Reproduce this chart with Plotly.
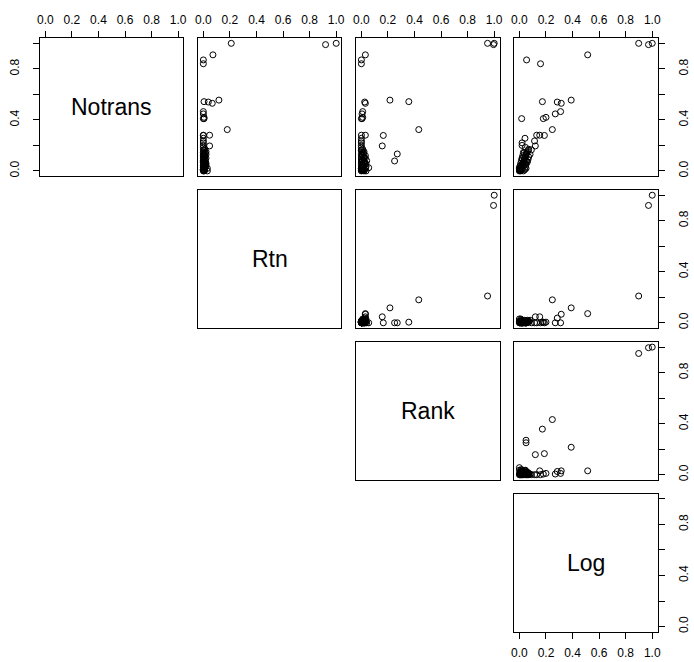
import plotly.graph_objects as go

# Variable names shown on the diagonal
names = ["Notrans", "Rtn", "Rank", "Log"]

# Each variable rescaled to [0, 1]; one entry per observation
notrans = [1.00, 0.99, 1.00, 0.91, 0.87, 0.84, 0.555, 0.543, 0.54, 0.53,
           0.41, 0.41, 0.42, 0.447, 0.465, 0.324, 0.278, 0.28, 0.28, 0.256,
           0.235, 0.22, 0.20, 0.196, 0.185, 0.165, 0.133, 0.078,
           0.17, 0.16, 0.15, 0.145, 0.14, 0.13, 0.12, 0.11, 0.10, 0.095,
           0.09, 0.08, 0.07, 0.065, 0.06, 0.05, 0.045, 0.04, 0.034, 0.03,
           0.025, 0.02, 0.015, 0.012, 0.008, 0.005, 0.003, 0.0, 0.0,
           0.0, 0.01, 0.02, 0.03, 0.04, 0.05, 0.06, 0.07, 0.08, 0.09,
           0.10, 0.11, 0.12, 0.13, 0.14, 0.01, 0.02, 0.035, 0.055, 0.075]
rtn = [0.21, 0.92, 1.00, 0.072, 0.00, 0.00, 0.117, 0.005, 0.037, 0.067,
       0.00, 0.005, 0.005, 0.00, 0.00, 0.18, 0.00, 0.047, 0.00, 0.00,
       0.00, 0.00, 0.00, 0.047, 0.00, 0.00, 0.00, 0.00,
       0.01, 0.005, 0.02, 0.0, 0.015, 0.01, 0.005, 0.0, 0.02, 0.0,
       0.01, 0.005, 0.015, 0.0, 0.01, 0.005, 0.02, 0.0, 0.01, 0.005,
       0.0, 0.03, 0.01, 0.0, 0.005, 0.0, 0.01, 0.03, 0.0,
       0.005, 0.0, 0.01, 0.015, 0.0, 0.005, 0.02, 0.01, 0.0, 0.015,
       0.005, 0.01, 0.0, 0.02, 0.005, 0.0, 0.01, 0.005, 0.015, 0.0]
rank = [0.95, 0.995, 1.00, 0.03, 0.00, 0.00, 0.215, 0.357, 0.025, 0.03,
        0.00, 0.005, 0.01, 0.005, 0.01, 0.432, 0.165, 0.03, 0.00, 0.00,
        0.00, 0.00, 0.00, 0.157, 0.00, 0.00, 0.27, 0.25,
        0.01, 0.0, 0.02, 0.005, 0.015, 0.0, 0.01, 0.02, 0.03, 0.0,
        0.005, 0.01, 0.0, 0.02, 0.015, 0.0, 0.01, 0.005, 0.035, 0.0,
        0.055, 0.01, 0.0, 0.02, 0.005, 0.0, 0.01, 0.035, 0.0,
        0.02, 0.01, 0.0, 0.03, 0.015, 0.005, 0.025, 0.0, 0.04, 0.01,
        0.02, 0.0, 0.03, 0.005, 0.015, 0.025, 0.0, 0.01, 0.035, 0.02]
log_t = [0.898, 0.972, 1.00, 0.514, 0.054, 0.159, 0.39, 0.173, 0.285, 0.315,
         0.017, 0.18, 0.20, 0.27, 0.31, 0.248, 0.188, 0.153, 0.13, 0.042,
         0.114, 0.02, 0.02, 0.12, 0.045, 0.09, 0.05, 0.05,
         0.07, 0.065, 0.06, 0.03, 0.055, 0.05, 0.048, 0.045, 0.04, 0.02,
         0.038, 0.035, 0.03, 0.028, 0.025, 0.022, 0.02, 0.018, 0.015, 0.014,
         0.0, 0.01, 0.008, 0.006, 0.004, 0.003, 0.002, 0.0, 0.01,
         0.03, 0.04, 0.0, 0.045, 0.005, 0.05, 0.01, 0.06, 0.015, 0.065,
         0.02, 0.07, 0.025, 0.08, 0.035, 0.02, 0.05, 0.03, 0.045, 0.055]

columns = [notrans, rtn, rank, log_t]

tick_vals = [0.0, 0.2, 0.4, 0.6, 0.8, 1.0]
x_tick_text = ["0.0", "0.2", "0.4", "0.6", "0.8", "1.0"]
y_tick_text = ["0.0", "", "0.4", "", "0.8", ""]

W, H = 694, 662
FONT = "Liberation Sans, Arial, sans-serif"

# Panel centres (px) and panel size
col_c = [109.7, 269.1, 428.5, 587.9]
row_c = [107.3, 259.4, 411.5, 563.6]
pw, ph = 144.7, 138.0

fig = go.Figure()
layout_axes = {}
annotations = []


def axis_base():
    return dict(
        range=[-0.04, 1.04], showgrid=False, zeroline=False,
        showline=True, linecolor="black", linewidth=1, mirror=True,
        tickvals=tick_vals, ticks="", showticklabels=False,
        ticklen=6, tickwidth=1, tickcolor="black",
        tickfont=dict(family=FONT, size=12, color="black"),
        fixedrange=True,
    )


k = 0
for i in range(4):
    for j in range(i, 4):
        k += 1
        xname = "xaxis" if k == 1 else f"xaxis{k}"
        yname = "yaxis" if k == 1 else f"yaxis{k}"
        xref = "x" if k == 1 else f"x{k}"
        yref = "y" if k == 1 else f"y{k}"

        xa = axis_base()
        xa["domain"] = [(col_c[j] - pw / 2) / W, (col_c[j] + pw / 2) / W]
        xa["anchor"] = yref
        ya = axis_base()
        ya["domain"] = [1 - (row_c[i] + ph / 2) / H, 1 - (row_c[i] - ph / 2) / H]
        ya["anchor"] = xref

        if i == 0:
            xa.update(side="top", ticks="outside", showticklabels=True,
                      ticktext=x_tick_text, ticklabelstandoff=2)
        if i == 3 and j == 3:
            xa.update(side="bottom", ticks="outside", showticklabels=True,
                      ticktext=x_tick_text, ticklabelstandoff=4)
        if j == 0:
            ya.update(side="left", ticks="outside", showticklabels=True,
                      ticktext=y_tick_text, tickangle=-90,
                      ticklabelstandoff=9)
        if j == 3:
            ya.update(side="right", ticks="outside", showticklabels=True,
                      ticktext=y_tick_text, tickangle=-90,
                      ticklabelstandoff=9)

        layout_axes[xname] = xa
        layout_axes[yname] = ya

        if i == j:
            fig.add_trace(go.Scatter(x=[], y=[], xaxis=xref, yaxis=yref,
                                     mode="markers", showlegend=False))
            annotations.append(dict(
                x=0.5, y=0.5, xref=xref, yref=yref, text=names[i],
                showarrow=False, font=dict(family=FONT, size=23, color="black"),
            ))
        else:
            fig.add_trace(go.Scatter(
                x=columns[j], y=columns[i], xaxis=xref, yaxis=yref,
                mode="markers", showlegend=False, hoverinfo="skip",
                marker=dict(symbol="circle-open", size=6, color="black",
                            line=dict(width=1, color="black")),
            ))

fig.update_layout(
    width=W, height=H,
    margin=dict(l=0, r=0, t=0, b=0),
    paper_bgcolor="white", plot_bgcolor="white",
    annotations=annotations,
    **layout_axes,
)

fig.write_html("out.html")
